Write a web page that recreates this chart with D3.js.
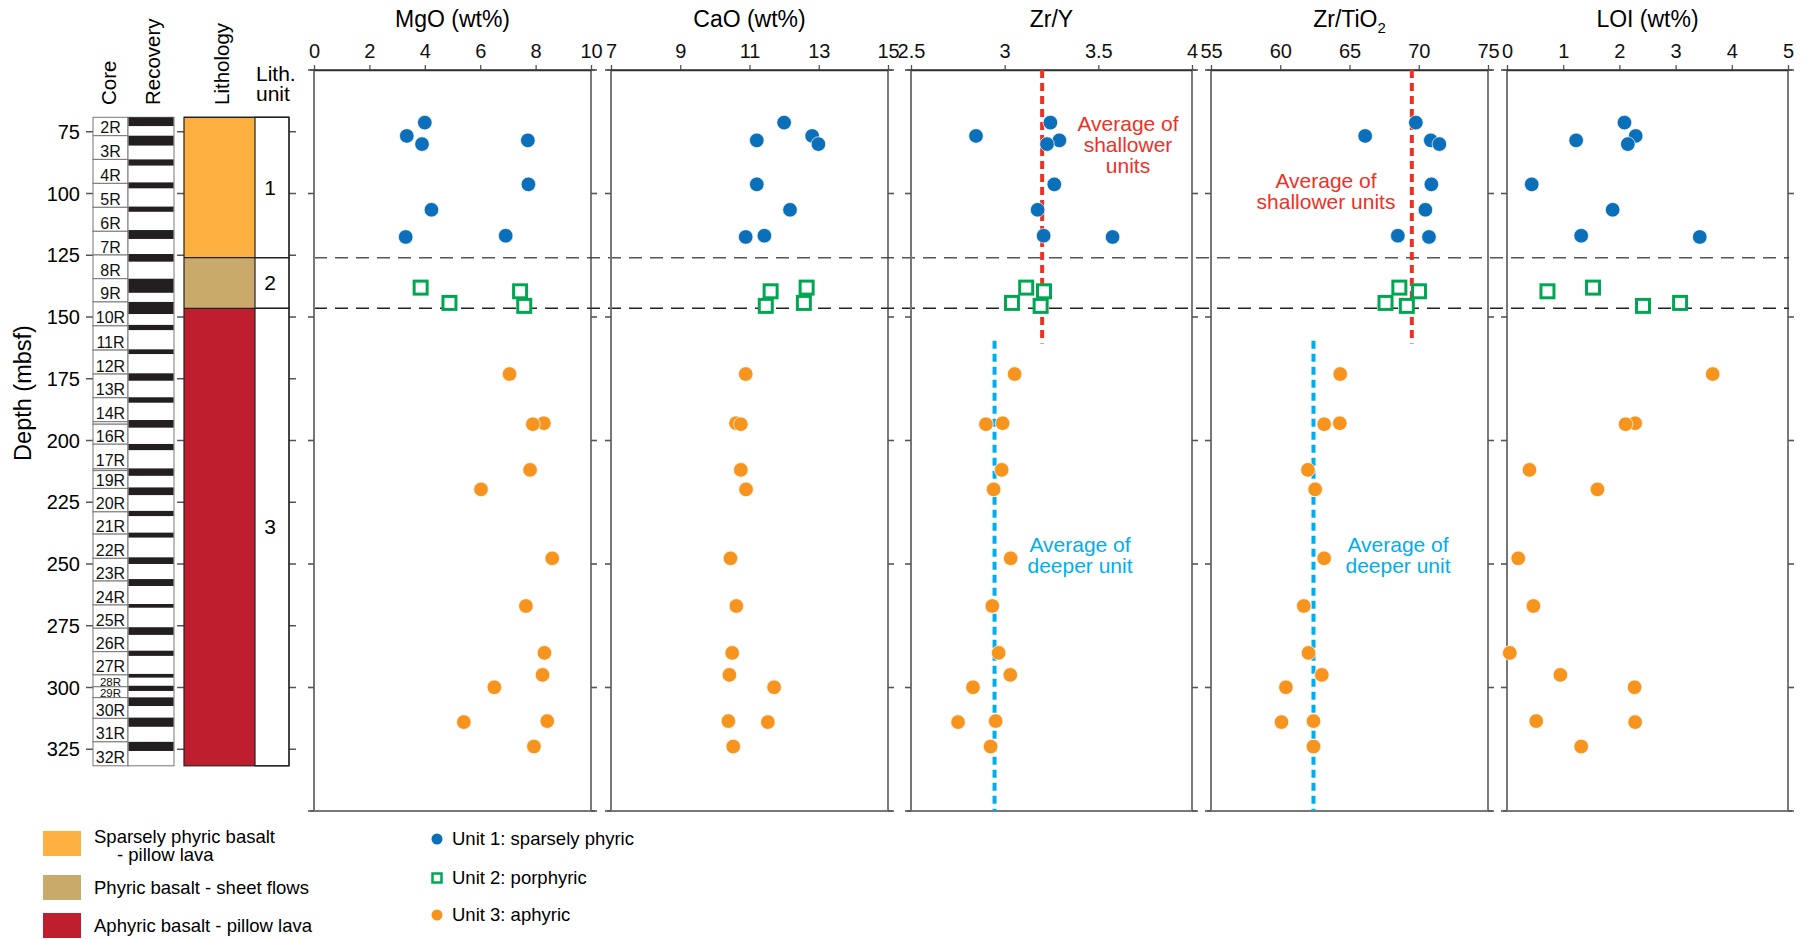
<!DOCTYPE html>
<html lang="en">
<head>
  <meta charset="utf-8" />
  <title>Downhole geochemistry</title>
  <script src="https://d3js.org/d3.v7.min.js"></script>
  <style>
    body { margin: 0; background: #fff; }
    svg { display: block; font-family: "Liberation Sans", Arial, sans-serif; }
  </style>
</head>
<body>
<svg id="chart" width="1818" height="939"></svg>
<script>
// ---- data ----
const panelTitles = ["MgO (wt%)", "CaO (wt%)", "Zr/Y", "Zr/TiO", "LOI (wt%)"];
const panelDomains = [[0, 10], [7, 15], [2.5, 4], [55, 75], [0, 5]];
const panelTicks = [[0, 2, 4, 6, 8, 10], [7, 9, 11, 13, 15], [2.5, 3, 3.5, 4], [55, 60, 65, 70, 75], [0, 1, 2, 3, 4, 5]];

const unit1Depth = [71.3, 76.7, 78.5, 80.0, 96.3, 106.6, 117.1, 117.6];
const unit1MgO   = [4.0, 3.35, 7.72, 3.9, 7.74, 4.24, 6.92, 3.31];
const unit1CaO   = [12.0, 12.81, 11.21, 12.99, 11.21, 12.17, 11.43, 10.89];
const unit1ZrY   = [3.244, 2.847, 3.292, 3.226, 3.265, 3.176, 3.208, 3.576];
const unit1ZrTi  = [69.79, 66.13, 70.87, 71.49, 70.91, 70.48, 68.49, 70.74];
const unit1LOI   = [2.09, 2.29, 1.23, 2.15, 0.44, 1.88, 1.32, 3.43];

const unit2Depth = [138.1, 139.6, 144.3, 145.5];
const unit2MgO   = [3.85, 7.44, 4.89, 7.59];
const unit2CaO   = [12.65, 11.61, 12.57, 11.47];
const unit2ZrY   = [3.115, 3.21, 3.039, 3.192];
const unit2ZrTi  = [68.6, 70.02, 67.6, 69.14];
const unit2LOI   = [1.53, 0.72, 3.08, 2.42];

const unit3Depth = [173.1, 193.0, 193.4, 211.9, 219.8, 247.7, 267.0, 286.0, 294.9, 299.9, 313.6, 314.0, 323.9];
const unit3MgO   = [7.06, 8.3, 7.9, 7.8, 6.03, 8.6, 7.65, 8.32, 8.25, 6.51, 8.42, 5.41, 7.94];
const unit3CaO   = [10.89, 10.61, 10.75, 10.75, 10.9, 10.45, 10.62, 10.5, 10.42, 11.71, 10.39, 11.53, 10.53];
const unit3ZrY   = [3.053, 2.989, 2.9, 2.984, 2.941, 3.032, 2.934, 2.968, 3.03, 2.831, 2.952, 2.751, 2.925];
const unit3ZrTi  = [64.33, 64.3, 63.17, 62.0, 62.52, 63.17, 61.7, 62.04, 63.0, 60.41, 62.4, 60.09, 62.4];
const unit3LOI   = [3.66, 2.28, 2.11, 0.40, 1.61, 0.20, 0.47, 0.05, 0.95, 2.27, 0.52, 2.28, 1.32];

// averages, with the depth span of each line
const shallowAvg = { zry: 3.2, zrti: 69.5, top: 50, bottom: 160.7 };
const deepAvg    = { zry: 2.946, zrti: 62.4, top: 159.6, bottom: 350 };

const coreNames = ["2R","3R","4R","5R","6R","7R","8R","9R","10R","11R","12R","13R","14R","15R","16R","17R","18R","19R","20R",
  "21R","22R","23R","24R","25R","26R","27R","28R","29R","30R","31R","32R"];
const coreTops = [69.15, 76.6, 86.2, 95.9, 105.6, 115.3, 124.9, 134.5, 143.9, 153.6, 163.4, 173.1, 182.7, 192.4, 193.4, 201.5,
  211.5, 212.2, 219.4, 228.9, 237.9, 247.7, 256.9, 266.6, 276.0, 285.5, 294.9, 299.7, 304.1, 312.5, 322.0];
const holeBottom = 331.7;
const recTop = [69.15, 76.6, 86.2, 95.5, 105.3, 114.8, 124.5, 134.5, 143.9, 153.2, 163.1, 172.8, 182.5, 191.7, 201.4, 211.3,
  219.0, 228.5, 237.3, 247.3, 256.1, 266.2, 275.6, 285.1, 294.5, 299.3, 304.0, 312.2, 322.0];
const recBottom = [72.7, 80.6, 88.7, 97.9, 107.4, 118.4, 127.6, 140.2, 148.8, 155.3, 165.0, 175.8, 184.7, 194.8, 203.9, 214.3,
  222.1, 230.6, 239.3, 250.0, 258.9, 267.7, 278.7, 287.2, 296.0, 301.4, 307.5, 315.9, 325.7];

const unitNames = ["1", "2", "3"];
const unitTops = [69.15, 126.0, 146.5];
const unitBottoms = [126.0, 146.5, 331.7];
const unitLabelDepth = [97.8, 136, 235];
const unitColors = ["#fbb040", "#c9aa6b", "#be1e2d"];
const lithLegend = [["Sparsely phyric basalt", "- pillow lava"], ["Phyric basalt - sheet flows"], ["Aphyric basalt - pillow lava"]];
const markerLegend = ["Unit 1: sparsely phyric", "Unit 2: porphyric", "Unit 3: aphyric"];
const depthTicks = [75, 100, 125, 150, 175, 200, 225, 250, 275, 300, 325];
const panelSideTicks = [50, 100, 150, 200, 250, 300, 350];

// ---- drawing ----
const svg = d3.select("#chart");
const blue = "#0b6fba", orange = "#f7941e", green = "#00a651", red = "#ee3124", cyan = "#00aeef";
const y = d3.scaleLinear().domain([50, 350]).range([70, 811]);

// depth axis
svg.append("text")
  .attr("transform", "translate(31,393) rotate(-90)")
  .attr("text-anchor", "middle").attr("font-size", 23.5).text("Depth (mbsf)");

const depthAxis = svg.append("g");
depthAxis.selectAll("text").data(depthTicks).enter().append("text")
  .attr("x", 80).attr("y", d => y(d)).attr("dy", "0.35em")
  .attr("text-anchor", "end").attr("font-size", 20).text(d => d);
[[86, 93], [177, 184], [289, 296]].forEach(([a, b]) => {
  depthAxis.append("g").selectAll("line").data(depthTicks).enter().append("line")
    .attr("x1", a).attr("x2", b).attr("y1", d => y(d)).attr("y2", d => y(d))
    .attr("stroke", "#555").attr("stroke-width", 1.5);
});

// column headers
[["Core", 116], ["Recovery", 160], ["Lithology", 229]].forEach(([t, x]) => {
  svg.append("text").attr("transform", `translate(${x},105) rotate(-90)`)
    .attr("font-size", 20.5).text(t);
});
svg.append("text").attr("x", 256).attr("y", 81).attr("font-size", 21).text("Lith.");
svg.append("text").attr("x", 256).attr("y", 101).attr("font-size", 21).text("unit");

// cores
const cores = svg.append("g");
coreNames.forEach((name, i) => {
  const top = coreTops[i], bot = i + 1 < coreTops.length ? coreTops[i + 1] : holeBottom;
  cores.append("rect").attr("x", 93).attr("y", y(top)).attr("width", 35).attr("height", y(bot) - y(top))
    .attr("fill", "#fff").attr("stroke", "#777").attr("stroke-width", 1);
  const h = bot - top;
  if (h > 3) {
    cores.append("text").attr("x", 110.5).attr("y", y(bot) - (h < 6 ? 1 : 2.5))
      .attr("text-anchor", "middle").attr("font-size", h < 6 ? 11.5 : 16).attr("fill", "#111").text(name);
  }
});
cores.append("rect").attr("x", 128).attr("y", y(coreTops[0])).attr("width", 46)
  .attr("height", y(holeBottom) - y(coreTops[0])).attr("fill", "#fff").attr("stroke", "#777");
cores.selectAll(".rec").data(recTop).enter().append("rect")
  .attr("x", 128.5).attr("width", 45)
  .attr("y", d => y(d)).attr("height", (d, i) => y(recBottom[i]) - y(d)).attr("fill", "#231f20");

// lithology
const lith = svg.append("g");
unitNames.forEach((u, i) => {
  lith.append("rect").attr("x", 184).attr("y", y(unitTops[i])).attr("width", 71)
    .attr("height", y(unitBottoms[i]) - y(unitTops[i])).attr("fill", unitColors[i]);
  lith.append("rect").attr("x", 255).attr("y", y(unitTops[i])).attr("width", 34)
    .attr("height", y(unitBottoms[i]) - y(unitTops[i])).attr("fill", "#fff").attr("stroke", "#222").attr("stroke-width", 1.2);
  lith.append("line").attr("x1", 184).attr("x2", 289).attr("y1", y(unitTops[i])).attr("y2", y(unitTops[i]))
    .attr("stroke", "#222").attr("stroke-width", 1.2);
  lith.append("text").attr("x", 270).attr("y", y(unitLabelDepth[i])).attr("dy", "0.35em")
    .attr("text-anchor", "middle").attr("font-size", 21).text(u);
});
lith.append("rect").attr("x", 184).attr("y", y(unitTops[0])).attr("width", 105)
  .attr("height", y(holeBottom) - y(unitTops[0])).attr("fill", "none").attr("stroke", "#222").attr("stroke-width", 1.2);

// panels
const panelLefts = [314, 611, 911, 1211, 1507];
const panelWidths = [277, 277, 281, 277, 281];
const series = [
  [unit1MgO, unit1CaO, unit1ZrY, unit1ZrTi, unit1LOI],
  [unit2MgO, unit2CaO, unit2ZrY, unit2ZrTi, unit2LOI],
  [unit3MgO, unit3CaO, unit3ZrY, unit3ZrTi, unit3LOI]
];
const depths = [unit1Depth, unit2Depth, unit3Depth];
const xScales = [];

// unit boundaries carried across the panels
[[unitTops[1], "#555"], [unitTops[2], "#222"]].forEach(([d, c]) => {
  svg.append("line").attr("x1", 314).attr("x2", 1789).attr("y1", y(d)).attr("y2", y(d))
    .attr("stroke", c).attr("stroke-width", 1.5).attr("stroke-dasharray", "13,8");
});

panelTitles.forEach((title, p) => {
  const L = panelLefts[p], W = panelWidths[p];
  const x = d3.scaleLinear().domain(panelDomains[p]).range([L, L + W]);
  xScales.push(x);
  const g = svg.append("g");

  // frame
  g.append("line").attr("x1", L).attr("x2", L).attr("y1", 70).attr("y2", 811).attr("stroke", "#777").attr("stroke-width", 2);
  g.append("line").attr("x1", L + W).attr("x2", L + W).attr("y1", 70).attr("y2", 811).attr("stroke", "#333").attr("stroke-width", 1.3);
  g.append("line").attr("x1", L - 4).attr("x2", L + W + 4).attr("y1", 811).attr("y2", 811).attr("stroke", "#777").attr("stroke-width", 2);

  // top axis
  const ax = g.append("g").attr("transform", "translate(0,70)")
    .call(d3.axisTop(x).tickValues(panelTicks[p]).tickFormat(d => String(d)).tickSize(5).tickSizeOuter(0).tickPadding(7));
  ax.select(".domain").attr("stroke", "#333").attr("stroke-width", 1.3);
  ax.selectAll(".tick line").attr("stroke", "#555").attr("stroke-width", 1.3);
  ax.selectAll(".tick text").attr("font-size", 20).attr("font-family", "Liberation Sans, Arial, sans-serif").attr("fill", "#111");
  ax.append("line").attr("x1", L - 4).attr("x2", L + W + 4).attr("y1", 0).attr("y2", 0).attr("stroke", "#333").attr("stroke-width", 1.3);

  // side depth ticks
  g.append("g").selectAll("line").data(panelSideTicks).enter().append("line")
    .attr("x1", L - 6).attr("x2", L).attr("y1", d => y(d)).attr("y2", d => y(d)).attr("stroke", "#555").attr("stroke-width", 1.6);
  g.append("g").selectAll("line").data(panelSideTicks).enter().append("line")
    .attr("x1", L + W).attr("x2", L + W + 6).attr("y1", d => y(d)).attr("y2", d => y(d)).attr("stroke", "#555").attr("stroke-width", 1.6);

  // title
  const t = g.append("text").attr("x", L + W / 2).attr("y", 27).attr("text-anchor", "middle").attr("font-size", 23).text(title);
  if (p === 3) t.append("tspan").attr("font-size", 15).attr("dy", 6).text("2");
});

// average lines and notes
[[2, "zry"], [3, "zrti"]].forEach(([p, k]) => {
  const x = xScales[p];
  svg.append("line").attr("x1", x(shallowAvg[k])).attr("x2", x(shallowAvg[k]))
    .attr("y1", y(shallowAvg.top)).attr("y2", y(shallowAvg.bottom))
    .attr("stroke", red).attr("stroke-width", 4).attr("stroke-dasharray", "8,5");
  svg.append("line").attr("x1", x(deepAvg[k])).attr("x2", x(deepAvg[k]))
    .attr("y1", y(deepAvg.top)).attr("y2", y(deepAvg.bottom))
    .attr("stroke", cyan).attr("stroke-width", 4).attr("stroke-dasharray", "8,5");
});
function note(lines, cx, y0, color) {
  const t = svg.append("text").attr("text-anchor", "middle").attr("font-size", 21).attr("fill", color);
  lines.forEach((s, i) => t.append("tspan").attr("x", cx).attr("y", y0 + i * 20.8).text(s));
}
note(["Average of", "shallower", "units"], 1128, 131, red);
note(["Average of", "shallower units"], 1326, 188, red);
note(["Average of", "deeper unit"], 1080, 552, cyan);
note(["Average of", "deeper unit"], 1398, 552, cyan);

// data marks
const markG = svg.append("g");
series.forEach((unitSeries, u) => {
  unitSeries.forEach((vals, p) => {
    const x = xScales[p];
    const pts = vals.map((v, i) => [v, depths[u][i]]);
    if (u === 1) {
      markG.append("g").selectAll("rect").data(pts).enter().append("rect")
        .attr("x", d => x(d[0]) - 6.5).attr("y", d => y(d[1]) - 6.5).attr("width", 13).attr("height", 13)
        .attr("fill", "#fff").attr("stroke", green).attr("stroke-width", 3);
    } else {
      markG.append("g").selectAll("circle").data(pts).enter().append("circle")
        .attr("cx", d => x(d[0])).attr("cy", d => y(d[1])).attr("r", 7.3)
        .attr("fill", u === 0 ? blue : orange).attr("stroke", "#fff").attr("stroke-width", 0.7);
    }
  });
});

// lithology legend
const legY = [831, 875, 913];
lithLegend.forEach((lines, i) => {
  svg.append("rect").attr("x", 43).attr("y", legY[i]).attr("width", 38).attr("height", 25).attr("fill", unitColors[i]);
  lines.forEach((s, j) => {
    svg.append("text").attr("x", j === 0 ? 94 : 117).attr("y", legY[i] + (lines.length > 1 ? 12 : 19) + j * 18)
      .attr("font-size", 18.5).text(s);
  });
});

// marker legend
const mkY = [839, 878, 915];
markerLegend.forEach((s, i) => {
  if (i === 1) {
    svg.append("rect").attr("x", 432.5).attr("y", mkY[i] - 4.5).attr("width", 9).attr("height", 9)
      .attr("fill", "#fff").attr("stroke", green).attr("stroke-width", 2.5);
  } else {
    svg.append("circle").attr("cx", 437).attr("cy", mkY[i]).attr("r", 5.5).attr("fill", i === 0 ? blue : orange);
  }
  svg.append("text").attr("x", 452).attr("y", mkY[i]).attr("dy", "0.35em").attr("font-size", 18.5).text(s);
});
</script>
</body>
</html>
